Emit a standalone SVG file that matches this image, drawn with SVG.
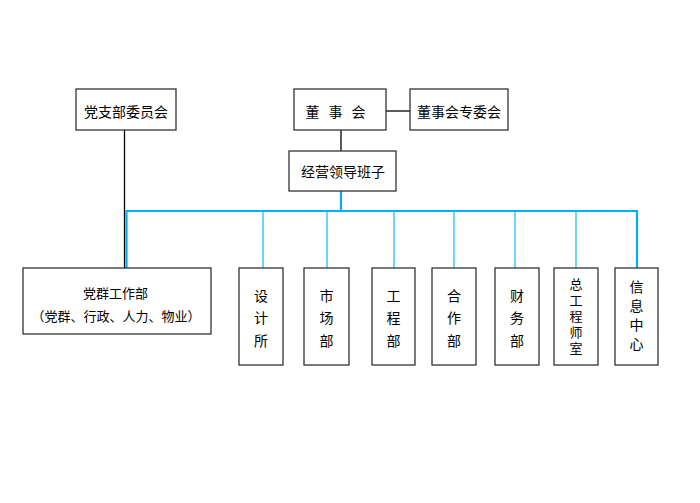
<svg xmlns="http://www.w3.org/2000/svg" width="700" height="503" viewBox="0 0 700 503">
<style>
.box{fill:#fff;stroke:#333;stroke-width:1.3}
.t{font-family:"Noto Sans CJK SC","Noto Sans",sans-serif;font-size:14px;fill:#000;text-anchor:middle;dominant-baseline:central}
.s{font-size:13px}
.v{font-family:"Noto Sans CJK SC","Noto Sans",sans-serif;font-size:13px;fill:#000;text-anchor:middle;writing-mode:vertical-rl;letter-spacing:3px}
.k{stroke:#000;stroke-width:1.3;fill:none}
.b2{stroke:#00B0F0;stroke-width:2.2;fill:none}
.b1{stroke:#00B0F0;stroke-width:1.1;fill:none}
</style>
<rect width="700" height="503" fill="#fff"/>
<g id="connectors">
<line class="k" x1="124.5" y1="130" x2="124.5" y2="268"/>
<line class="k" x1="386" y1="111" x2="410" y2="111"/>
<line class="k" x1="341" y1="130" x2="341" y2="151"/>
<polyline class="b2" points="341,191 341,211 637,211 637,268"/>
<polyline class="b2" points="126.5,268 126.5,211 341,211"/>
<line class="b1" x1="263" y1="211" x2="263" y2="268"/>
<line class="b1" x1="327" y1="211" x2="327" y2="268"/>
<line class="b1" x1="394" y1="211" x2="394" y2="268"/>
<line class="b1" x1="454" y1="211" x2="454" y2="268"/>
<line class="b1" x1="515" y1="211" x2="515" y2="268"/>
<line class="b1" x1="576" y1="211" x2="576" y2="268"/>
</g>
<g id="dangzhibu"><rect class="box" x="76" y="89" width="100" height="41"/><text class="t" x="126" y="111">党支部委员会</text></g>
<g id="dongshihui"><rect class="box" x="294" y="89" width="92" height="41"/><text class="t" x="340" y="111" letter-spacing="9">董事会</text></g>
<g id="zhuanweihui"><rect class="box" x="410" y="89" width="98" height="41"/><text class="t" x="459" y="111">董事会专委会</text></g>
<g id="jingying"><rect class="box" x="289" y="151" width="107" height="40"/><text class="t" x="343" y="171">经营领导班子</text></g>
<g id="dangqun"><rect class="box" x="23" y="268" width="188" height="66"/><text class="t s" x="115.5" y="292">党群工作部</text><text class="t s" x="116" y="315">（党群、行政、人力、物业）</text></g>
<g id="sheji"><rect class="box" x="239" y="268" width="44" height="97"/><text class="t" x="261" y="295">设</text><text class="t" x="261" y="317">计</text><text class="t" x="261" y="340">所</text></g>
<g id="shichang"><rect class="box" x="304" y="268" width="45" height="97"/><text class="t" x="326.5" y="295">市</text><text class="t" x="326.5" y="317">场</text><text class="t" x="326.5" y="340">部</text></g>
<g id="gongcheng"><rect class="box" x="372" y="268" width="43" height="97"/><text class="t" x="393.5" y="295">工</text><text class="t" x="393.5" y="317">程</text><text class="t" x="393.5" y="340">部</text></g>
<g id="hezuo"><rect class="box" x="432" y="268" width="44" height="97"/><text class="t" x="454" y="295">合</text><text class="t" x="454" y="317">作</text><text class="t" x="454" y="340">部</text></g>
<g id="caiwu"><rect class="box" x="495" y="268" width="44" height="97"/><text class="t" x="517" y="295">财</text><text class="t" x="517" y="317">务</text><text class="t" x="517" y="340">部</text></g>
<g id="zonggong"><rect class="box" x="554" y="268" width="44" height="97"/><text class="v" x="576" y="317.5">总工程师室</text></g>
<g id="xinxi"><rect class="box" x="615" y="268" width="43" height="97"/><text class="v" x="636.5" y="317.5" style="font-size:14px;letter-spacing:4.7px">信息中心</text></g>
</svg>
